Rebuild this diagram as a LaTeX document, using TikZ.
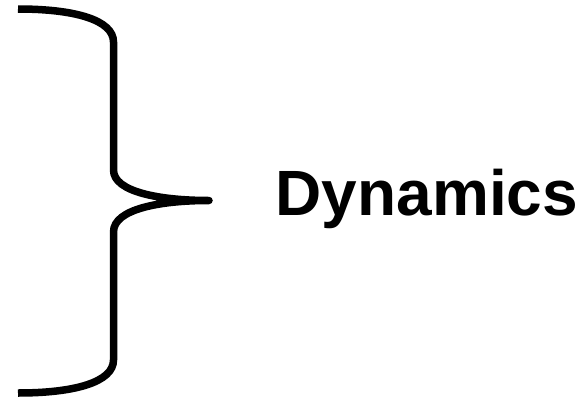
\documentclass[tikz,border=0pt]{standalone}
\usepackage{fontspec}
\setmainfont{Liberation Sans}
\usetikzlibrary{positioning}

\begin{document}
\begin{tikzpicture}[
    x=1pt, y=-1pt,
    brace/.style={draw, line width=7.5pt, line join=round},
    term/.style={font=\fontsize{64}{72}\selectfont\bfseries, inner sep=0pt},
  ]
  \useasboundingbox (0,0) rectangle (583,399);
  \coordinate (tip) at (209,200.5);
  \draw[brace] (18,9) .. controls (75,9) and (113.5,20) .. (113.5,42) -- (113.5,170)
    .. controls (113.5,192) and (160,200.5) .. (tip)
    .. controls (160,200.5) and (113.5,209) .. (113.5,232) -- (113.5,360)
    .. controls (113.5,382) and (75,393) .. (18,393);
  \node[term, anchor=base west] (dyn) at (275.5,215) {Dynamics};
\end{tikzpicture}
\end{document}
